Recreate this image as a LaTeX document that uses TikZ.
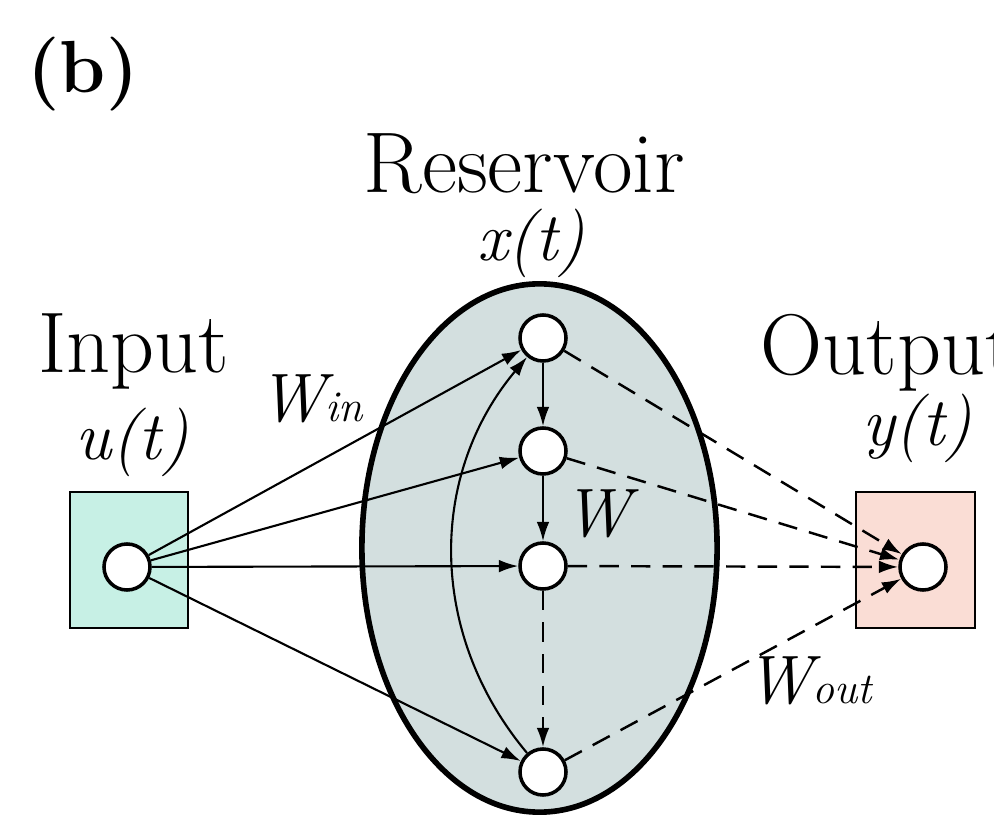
\documentclass[tikz,border=0pt]{standalone}
\usepackage{fontspec}
\usetikzlibrary{arrows.meta,positioning}
\definecolor{inCyan}{RGB}{199,240,229}
\definecolor{outPink}{RGB}{250,221,213}
\definecolor{resGray}{RGB}{211,223,223}

\begin{document}
\begin{tikzpicture}[x=0.01cm, y=-0.01cm,
  neuron/.style={circle, draw, line width=1pt, fill=white, minimum size=0.46cm, inner sep=0pt},
  arr/.style={-{Latex[length=5.5pt,width=3.6pt]}, line width=0.6pt},
  darr/.style={arr, line width=0.7pt, dash pattern=on 5.5pt off 3.5pt},
  big/.style={inner sep=0pt, font=\fontsize{24.5}{29}\selectfont},
  lab/.style={inner sep=0pt, font=\fontsize{19.5}{24}\selectfont\itshape}]
\useasboundingbox (0,0) rectangle (994,819);
% layer boxes and the reservoir
\node[draw, line width=0.6pt, fill=inCyan, minimum width=1.18cm, minimum height=1.36cm] (ubox) at (129,560) {};
\node[draw, line width=0.6pt, fill=outPink, minimum width=1.19cm, minimum height=1.36cm] (ybox) at (915.5,560) {};
\draw[line width=1.6pt, fill=resGray] (539.5,548) ellipse [x radius=1.775cm, y radius=2.64cm];
% neurons
\node[neuron] (u) at (127,567) {};
\foreach \i/\y in {1/338, 2/451, 3/566, 4/772}
  \node[neuron] (x\i) at (543,\y) {};
\node[neuron] (y) at (923,567) {};
% connections
\foreach \i in {1,...,4}
  \draw[arr] (u) -- (x\i);
\draw[arr] (x1) -- (x2);
\draw[arr] (x2) -- (x3);
\draw[darr] (x3) -- (x4);
\draw[arr] (x4) to[bend left=40] (x1);
\foreach \i in {1,...,4}
  \draw[darr] (x\i) -- (y);
% labels
\node[inner sep=0pt, font=\fontsize{21}{26}\selectfont\bfseries] (tag) at (83,74) {(b)};
\node[big, anchor=base] (inlab) at (134,373) {Input};
\node[big, anchor=base] (reslab) at (524,193) {Reservoir};
\node[big, anchor=base west] (outlab) at (760,375) {Output};
\node[lab, anchor=base] (ulab) at (132,460) {u(t)};
\node[lab, anchor=base] (xlab) at (531,261) {x(t)};
\node[lab, anchor=base] (ylab) at (917,446) {y(t)};
\node[lab, anchor=base west] (win) at (258,422) {W{\fontsize{12.5}{14}\selectfont in}};
\node[lab, anchor=base west] (wres) at (563,537) {W};
\node[lab, anchor=base west] (wout) at (745,703) {W{\fontsize{12.5}{14}\selectfont out}};
\end{tikzpicture}
\end{document}
